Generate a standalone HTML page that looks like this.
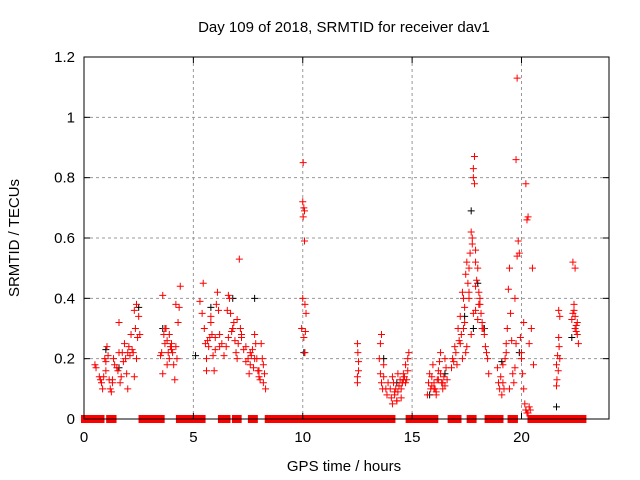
<!DOCTYPE html>
<html><head><meta charset="utf-8"><style>
body{margin:0;background:#fff}
svg{display:block}
text{font-family:"Liberation Sans",sans-serif;font-size:15px;fill:#000}
</style></head><body>
<svg id="chart" width="640" height="480">
<text x="344" y="32" text-anchor="middle">Day 109 of 2018, SRMTID for receiver dav1</text>
<text x="344" y="471" text-anchor="middle">GPS time / hours</text>
<text transform="translate(19,238) rotate(-90)" text-anchor="middle">SRMTID / TECUs</text>
<g id="grid"></g><g id="zero"></g><g id="pts"></g><g id="axes"></g>
</svg>
<script>
const xTicks=[0,5,10,15,20];
const yTicks=[0,0.2,0.4,0.6,0.8,1,1.2];
const yTickLabels=["0","0.2","0.4","0.6","0.8","1","1.2"];
const zeroStarts=[0,1.15,2.63,4.34,6.26,6.9,7.63,8.4,10.2,12.6,13.6,14.84,16.76,17.63,18.45,18.68,19.5,20.41,21.8,22.5];
const zeroEnds=[0.8,1.35,3.55,5.42,6.56,7.07,7.81,10.1,12.5,13.4,14.1,16.06,17.12,17.81,18.5,19.04,19.7,21.63,22.35,22.83];
const redT=[0.5,0.55,0.7,0.75,0.8,0.85,0.9,0.95,1.0,1.05,1.1,1.15,1.2,1.25,1.3,1.35,1.4,1.5,1.55,1.6,1.65,1.7,1.75,1.8,1.85,1.9,1.95,2.0,2.05,2.1,2.15,2.2,2.25,2.3,2.35,2.4,2.45,2.5,2.55,2.0,1.6,1.3,1.0,2.3,2.4,
3.5,3.55,3.6,3.65,3.7,3.75,3.8,3.85,3.9,3.95,4.0,4.05,4.1,4.15,4.2,4.25,4.3,4.35,4.4,3.6,3.8,4.0,4.2,3.7,3.9,
5.3,5.4,5.45,5.5,5.55,5.6,5.65,5.7,5.75,5.8,5.85,5.9,5.95,6.0,6.05,6.1,6.15,6.2,6.3,6.4,6.5,6.55,6.6,6.65,6.7,6.75,6.8,6.85,6.9,6.95,7.0,7.05,7.1,7.15,7.2,7.3,7.4,7.5,7.55,7.6,7.65,7.7,7.75,7.8,7.85,7.9,7.95,8.0,8.05,8.1,8.15,8.2,8.25,8.3,6.6,6.8,7.0,7.2,7.4,7.6,7.8,8.0,8.2,5.6,5.8,6.0,6.2,
9.95,10.0,10.02,10.05,10.08,10.1,10.12,10.0,10.05,10.1,10.15,10.02,10.08,
12.5,12.52,12.55,12.5,12.55,12.5,
13.5,13.55,13.6,13.65,13.7,13.55,13.6,13.7,13.8,13.85,13.9,14.0,14.05,14.1,14.15,14.2,14.25,14.3,14.35,14.4,14.45,14.5,14.55,14.6,14.65,14.7,14.75,14.8,14.85,14.2,14.4,14.6,14.8,14.3,14.5,14.7,14.1,14.35,14.55,
15.7,15.75,15.8,15.85,15.9,15.95,16.0,16.05,16.1,16.15,16.2,16.25,16.3,16.35,16.4,16.45,16.5,16.55,16.6,15.9,16.1,16.3,16.5,16.0,16.2,16.4,
16.8,16.85,16.9,16.95,17.0,17.05,17.1,17.15,17.2,17.25,17.3,17.35,17.4,17.45,17.5,17.55,17.6,17.65,17.7,17.75,17.8,17.85,17.9,17.95,18.0,18.05,18.1,18.15,18.2,18.25,18.3,18.35,18.4,18.45,18.5,17.2,17.4,17.6,17.8,18.0,18.2,17.3,17.5,17.7,17.9,18.1,17.35,17.45,17.6,17.75,17.9,18.05,17.8,17.85,17.9,
18.9,18.95,19.0,19.05,19.1,19.15,19.2,19.25,19.3,19.35,19.4,19.45,19.5,19.55,19.6,19.65,19.7,19.75,19.8,19.85,19.9,19.95,20.0,20.05,20.1,20.15,20.2,20.25,20.3,20.35,20.4,19.15,19.3,19.45,19.75,19.8,19.7,20.0,20.2,20.3,20.1,20.25,20.35,20.5,20.45,20.55,
21.6,21.62,21.65,21.68,21.7,21.72,21.75,21.6,21.7,21.75,
22.3,22.35,22.4,22.45,22.5,22.55,22.6,22.35,22.45,22.5,22.55,22.4,22.45];
const redV=[0.18,0.17,0.14,0.13,0.12,0.1,0.14,0.2,0.19,0.24,0.21,0.13,0.1,0.09,0.12,0.2,0.18,0.17,0.16,0.32,0.12,0.14,0.22,0.19,0.25,0.2,0.15,0.22,0.24,0.21,0.28,0.23,0.22,0.36,0.3,0.38,0.27,0.34,0.28,0.1,0.22,0.13,0.16,0.14,0.2,
0.21,0.22,0.41,0.28,0.25,0.3,0.26,0.22,0.2,0.24,0.25,0.22,0.18,0.13,0.24,0.2,0.32,0.37,0.44,0.15,0.18,0.23,0.38,0.3,0.28,
0.39,0.35,0.45,0.3,0.25,0.16,0.26,0.24,0.27,0.34,0.28,0.21,0.16,0.23,0.38,0.42,0.36,0.28,0.25,0.21,0.24,0.36,0.41,0.4,0.35,0.29,0.3,0.32,0.26,0.22,0.2,0.25,0.53,0.3,0.28,0.23,0.19,0.2,0.15,0.18,0.21,0.23,0.17,0.28,0.25,0.2,0.16,0.14,0.13,0.25,0.2,0.18,0.15,0.1,0.27,0.3,0.33,0.27,0.24,0.22,0.2,0.16,0.12,0.2,0.32,0.27,0.24,
0.3,0.72,0.85,0.7,0.59,0.38,0.29,0.4,0.27,0.22,0.35,0.67,0.69,
0.25,0.22,0.19,0.14,0.16,0.12,
0.2,0.15,0.12,0.1,0.14,0.25,0.28,0.18,0.1,0.08,0.12,0.1,0.07,0.05,0.12,0.08,0.1,0.06,0.09,0.11,0.13,0.07,0.12,0.15,0.14,0.18,0.13,0.2,0.22,0.09,0.11,0.13,0.16,0.06,0.1,0.12,0.14,0.15,0.12,
0.08,0.12,0.15,0.1,0.14,0.18,0.12,0.1,0.08,0.13,0.16,0.19,0.22,0.12,0.1,0.14,0.2,0.17,0.13,0.11,0.09,0.15,0.11,0.1,0.13,0.12,
0.17,0.2,0.19,0.24,0.22,0.18,0.3,0.26,0.34,0.28,0.42,0.4,0.37,0.48,0.52,0.45,0.42,0.55,0.62,0.6,0.8,0.87,0.52,0.46,0.5,0.42,0.38,0.35,0.32,0.3,0.28,0.24,0.22,0.2,0.15,0.25,0.32,0.4,0.35,0.33,0.3,0.2,0.24,0.28,0.36,0.4,0.3,0.22,0.5,0.58,0.44,0.38,0.83,0.78,0.56,
0.17,0.12,0.1,0.14,0.08,0.12,0.1,0.2,0.25,0.3,0.43,0.5,0.35,0.26,0.15,0.12,0.17,0.86,1.13,0.59,0.55,0.27,0.2,0.15,0.1,0.05,0.03,0.02,0.02,0.04,0.03,0.18,0.22,0.1,0.25,0.54,0.4,0.22,0.78,0.67,0.32,0.66,0.25,0.5,0.3,0.18,
0.18,0.13,0.21,0.16,0.27,0.24,0.34,0.11,0.36,0.2,
0.33,0.35,0.38,0.3,0.31,0.28,0.25,0.52,0.34,0.29,0.32,0.36,0.5];
const blackT=[1.0,1.6,2.5,3.6,5.1,5.8,6.8,7.8,10.05,13.7,14.3,15.8,16.5,17.4,17.7,17.8,18.0,18.3,19.1,19.9,20.2,21.6,22.3];
const blackV=[0.23,0.17,0.37,0.3,0.21,0.37,0.4,0.4,0.22,0.2,0.12,0.08,0.15,0.34,0.69,0.3,0.45,0.3,0.19,0.22,0.03,0.04,0.27];

const X0=84,X1=609,Y0=419,Y1=57,XMAX=24,YMAX=1.2;
const sx=t=>X0+(X1-X0)*t/XMAX, sy=v=>Y0-(Y0-Y1)*v/YMAX;
const NS="http://www.w3.org/2000/svg";
function mk(tag,parent,attrs){const e=document.createElementNS(NS,tag);for(const k in attrs)e.setAttribute(k,attrs[k]);parent.appendChild(e);return e;}
const grid=document.getElementById('grid'),axes=document.getElementById('axes'),pts=document.getElementById('pts'),zero=document.getElementById('zero');
xTicks.forEach((t,i)=>{const x=sx(t);
 if(t>0){const g=mk('line',grid,{x1:x,x2:x,y1:Y1,y2:Y0,stroke:'#999','stroke-dasharray':'3,3'});
 
 }
 mk('line',axes,{x1:x,x2:x,y1:Y0,y2:Y0-6,stroke:'#000'});mk('line',axes,{x1:x,x2:x,y1:Y1,y2:Y1+6,stroke:'#000'});
 const l=mk('text',axes,{x:x,y:Y0+23,'text-anchor':'middle'});l.textContent=t;
 
 });
yTicks.forEach((v,i)=>{const y=sy(v);
 if(v>0&&v<YMAX){const g=mk('line',grid,{x1:X0,x2:X1,y1:y,y2:y,stroke:'#999','stroke-dasharray':'3,3'});
 
 }
 mk('line',axes,{x1:X0,x2:X0+6,y1:y,y2:y,stroke:'#000'});mk('line',axes,{x1:X1,x2:X1-6,y1:y,y2:y,stroke:'#000'});
 const l=mk('text',axes,{x:X0-9,y:y+5,'text-anchor':'end'});l.textContent=yTickLabels[i];
 
 });
const box=mk('rect',axes,{x:X0,y:Y1,width:X1-X0,height:Y0-Y1,fill:'none',stroke:'#000'});


zeroStarts.forEach((s,i)=>{const r=mk('rect',zero,{x:sx(s)-3,y:Y0-4,width:sx(zeroEnds[i])-sx(s)+6,height:8,fill:'#f00'});
 
 });
function plus(t,v,c,name){const x=sx(t),y=sy(v);
 const p=mk('path',pts,{d:`M${x-3.5} ${y}h7M${x} ${y-3.5}v7`,stroke:c,'stroke-width':1,fill:'none'});
 
 }
blackT.forEach((t,i)=>plus(t,blackV[i],'#000','black-point'));
redT.forEach((t,i)=>plus(t,redV[i],'#f00','red-point'));
</script>
</body></html>
